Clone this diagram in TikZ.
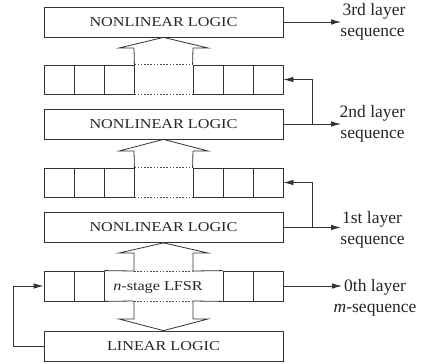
\documentclass[tikz,border=0pt]{standalone}
\usepackage{fontspec}
\setmainfont{Liberation Serif}
\newfontfamily\boxfont[FakeStretch=1.19]{Liberation Serif}
\usetikzlibrary{arrows.meta}
\begin{document}
\begin{tikzpicture}[x=1pt,y=-1pt,
  ln/.style={draw=black!80,line width=0.8pt},
  lbox/.style={ln,rectangle,minimum width=239pt,minimum height=30pt,inner sep=0pt,
    font=\boxfont\fontsize{13.6}{16}\selectfont,text=black!85},
  cell/.style={ln,rectangle,minimum width=30pt,minimum height=29pt,inner sep=0pt},
  lbl/.style={anchor=base,inner sep=0pt,font=\fontsize{17.5}{21}\selectfont,text=black!85},
  arr/.style={ln,-{Latex[length=10pt,width=5.5pt]}},
  dots/.style={draw=black!70,line width=0.8pt,dash pattern=on 1.6pt off 1.6pt}
]
\useasboundingbox (0,0) rectangle (427,363);

% logic boxes
\node[lbox] (NL3) at (163.5,22) {NONLINEAR LOGIC};
\node[lbox] (NL2) at (163.5,124) {NONLINEAR LOGIC};
\node[lbox] (NL1) at (163.5,227.5) {NONLINEAR LOGIC};
\node[lbox] (LL) at (163.5,346) {LINEAR LOGIC};

% register row A
\foreach \i/\x in {1/59,2/89,3/119,4/208,5/238,6/268}
  \node[cell] (a\i) at (\x,79.5) {};
% register row B
\foreach \i/\x in {1/59,2/89,3/119,4/208,5/238,6/268}
  \node[cell] (b\i) at (\x,182.5) {};
% LFSR row
\foreach \i/\x in {1/59,2/89,5/238,6/268}
  \node[cell,minimum height=30pt] (c\i) at (\x,286) {};
\draw[ln] (c2.north east) -- (134,271) (193,271) -- (c5.north west);
\draw[ln] (c2.south east) -- (134,301) (193,301) -- (c5.south west);
\draw[dots] (134,271) -- (193,271) (134,301) -- (193,301);
\node[inner sep=0pt,font=\boxfont\fontsize{13.6}{16}\selectfont,text=black!85] (lfsr) at (158,287) {\textit{n}-stage LFSR};

% dotted gaps in rows A and B
\draw[dots] (a3.north east) -- (a4.north west) (a3.south east) -- (a4.south west);
\draw[dots] (b3.north east) -- (b4.north west) (b3.south east) -- (b4.south west);

% hollow arrows
\draw[ln] (a3.north east) -- (134,48) -- (119,48) -- (NL3.south) -- (208,48) -- (193,48) -- (a4.north west);
\draw[ln] (b3.north east) -- (134,151) -- (119,151) -- (NL2.south) -- (208,151) -- (193,151) -- (b4.north west);
\draw[ln] (134,271) -- (134,253) -- (119,253) -- (NL1.south) -- (208,253) -- (193,253) -- (193,271);
\draw[ln] (134,301) -- (134,319) -- (119,319) -- (LL.north) -- (208,319) -- (193,319) -- (193,301);

% outputs
\coordinate (t3) at (341,22);
\coordinate (t2) at (341,124);
\coordinate (t1) at (341,227.5);
\coordinate (t0) at (342,286);
\coordinate (j2) at (312,124);
\coordinate (j1) at (312,227.5);
\coordinate (fb) at (13,346);
\draw[arr] (NL3.east) -- (t3);
\draw[arr] (NL2.east) -- (t2);
\draw[arr] (NL1.east) -- (t1);
\draw[arr] (c6.east) -- (t0);
\draw[arr] (j2) |- (a6.east);
\draw[arr] (j1) |- (b6.east);
\draw[arr] (LL.west) -- (fb) |- (c1.west);

% labels
\node[lbl] (l3a) at (374,16) {3rd layer};
\node[lbl] (l3b) at (372.5,37) {sequence};
\node[lbl] (l2a) at (372.5,118) {2nd layer};
\node[lbl] (l2b) at (372.5,139) {sequence};
\node[lbl] (l1a) at (372,223) {1st layer};
\node[lbl] (l1b) at (372.5,244) {sequence};
\node[lbl] (l0a) at (375,291) {0th layer};
\node[lbl] (l0b) at (375,312) {\textit{m}-sequence};
\end{tikzpicture}
\end{document}
